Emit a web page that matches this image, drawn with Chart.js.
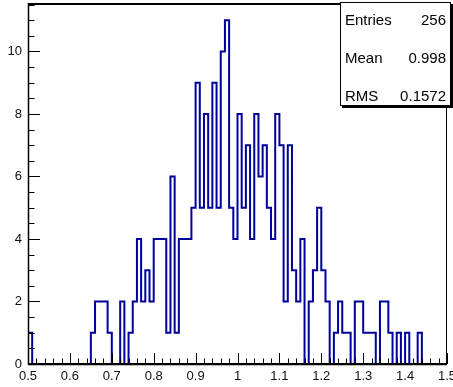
<!DOCTYPE html>
<html>
<head>
<meta charset="utf-8">
<script src="https://cdn.jsdelivr.net/npm/chart.js@4/dist/chart.umd.min.js"></script>
<style>
  html, body { margin: 0; padding: 0; background: #fff; }
  #wrap { width: 453px; height: 387px; }
</style>
</head>
<body>
<div id="wrap"><canvas id="c" width="453" height="387"></canvas></div>
<script>
// ---- data ----
const xMin = 0.5;
const xMax = 1.5;
const binWidth = 0.01;
const binCounts = [
  1,0,0,0,0,0,0,0,0,0,
  0,0,0,0,0,1,2,2,2,1,
  0,0,2,0,1,2,4,2,3,2,
  4,4,4,1,6,1,4,4,4,5,
  9,5,8,5,9,5,10,11,5,4,
  8,5,7,4,8,6,7,5,4,8,
  7,2,7,3,2,4,0,2,3,5,
  3,2,0,1,2,1,1,0,2,2,
  1,1,1,0,2,2,1,0,1,0,
  1,0,0,1,0,0,0,0,0,0
];
const yMax = 11.55;
const xTickValues = [0.5,0.6,0.7,0.8,0.9,1.0,1.1,1.2,1.3,1.4,1.5];
const xTickLabels = ['0.5','0.6','0.7','0.8','0.9','1','1.1','1.2','1.3','1.4','1.5'];
const yTickValues = [0,2,4,6,8,10];
const yTickLabels = ['0','2','4','6','8','10'];
const xMinorStep = 0.02;
const yMinorStep = 0.5;
const statNames = ['Entries','Mean','RMS'];
const statValues = ['256','0.998','0.1572'];

// histogram outline points (bin left edges, step-before)
const pts = [{x: xMin, y: 0}];
binCounts.forEach((v, i) => pts.push({x: xMin + i * binWidth, y: v}));
pts.push({x: xMax, y: binCounts[binCounts.length - 1]});

const FONT = '"Liberation Sans", Arial, sans-serif';

const framePlugin = {
  id: 'rootFrame',
  afterDatasetsDraw(chart) {
    const {ctx, chartArea: a, scales: {x, y}} = chart;
    ctx.save();
    ctx.strokeStyle = '#000';
    ctx.lineWidth = 1;
    ctx.strokeRect(a.left + 0.5, a.top + 0.5, a.right - a.left - 1, a.bottom - a.top - 1);
    ctx.beginPath();
    for (let v = xMin; v <= xMax + 1e-9; v += xMinorStep) {
      const px = Math.round(x.getPixelForValue(v)) + 0.5;
      const isMajor = xTickValues.some(t => Math.abs(t - v) < 1e-6);
      const len = isMajor ? 11 : 5.5;
      ctx.moveTo(px, a.bottom);
      ctx.lineTo(px, a.bottom - len);
    }
    for (let v = 0; v <= yMax + 1e-9; v += yMinorStep) {
      const py = Math.round(y.getPixelForValue(v)) + 0.5;
      const isMajor = yTickValues.some(t => Math.abs(t - v) < 1e-6);
      const len = isMajor ? 12 : 6.5;
      ctx.moveTo(a.left, py);
      ctx.lineTo(a.left + len, py);
    }
    ctx.stroke();
    ctx.lineWidth = 1.5;
    ctx.beginPath();
    ctx.moveTo(a.left + 0.5, a.top);
    ctx.lineTo(a.left + 0.5, a.bottom + 0.5);
    ctx.lineTo(a.right, a.bottom + 0.5);
    ctx.stroke();
    ctx.lineWidth = 2;
    ctx.beginPath();
    ctx.moveTo(a.left, a.top + 1);
    ctx.lineTo(a.right, a.top + 1);
    ctx.stroke();
    ctx.restore();
  },
  afterDraw(chart) {
    const {ctx} = chart;
    ctx.save();
    const bx = 340, by = 2, bw = 111, bh = 104;
    ctx.fillStyle = '#000';
    ctx.fillRect(bx + 2, by + 2, bw, bh);
    ctx.fillStyle = '#fff';
    ctx.fillRect(bx, by, bw, bh);
    ctx.strokeStyle = '#000';
    ctx.lineWidth = 1;
    ctx.strokeRect(bx + 0.5, by + 0.5, bw - 1, bh - 1);
    ctx.font = '15px ' + FONT;
    ctx.fillStyle = '#000';
    ctx.textBaseline = 'middle';
    const rowY = [21, 59, 97];
    statNames.forEach((n, i) => {
      ctx.textAlign = 'left';
      ctx.fillText(n, bx + 5, rowY[i]);
      ctx.textAlign = 'right';
      ctx.fillText(statValues[i], bx + bw - 5, rowY[i]);
    });
    ctx.restore();
  }
};

new Chart(document.getElementById('c'), {
  type: 'line',
  data: {
    datasets: [{
      data: pts,
      stepped: 'before',
      borderColor: '#00009a',
      borderWidth: 2,
      pointRadius: 0,
      fill: false,
      tension: 0
    }]
  },
  options: {
    responsive: false,
    devicePixelRatio: 1,
    animation: false,
    events: [],
    layout: { padding: { top: 3, right: 6, left: 0, bottom: 0 } },
    plugins: { legend: { display: false }, tooltip: { enabled: false } },
    scales: {
      x: {
        type: 'linear',
        min: xMin,
        max: xMax,
        afterBuildTicks: s => { s.ticks = xTickValues.map(v => ({value: v})); },
        afterFit: s => { s.height = 23; s.paddingLeft = 0; s.paddingRight = 0; },
        grid: { display: false, drawTicks: false },
        border: { display: false },
        ticks: {
          autoSkip: false,
          maxRotation: 0,
          padding: 5,
          color: '#111',
          font: { size: 13, family: FONT },
          callback: (v, i) => xTickLabels[i]
        }
      },
      y: {
        min: 0,
        max: yMax,
        afterBuildTicks: s => { s.ticks = yTickValues.map(v => ({value: v})); },
        afterFit: s => { s.width = 28; s.paddingTop = 0; s.paddingBottom = 0; },
        grid: { display: false, drawTicks: false },
        border: { display: false },
        ticks: {
          padding: 6,
          color: '#111',
          font: { size: 13, family: FONT },
          callback: (v, i) => yTickLabels[i]
        }
      }
    }
  },
  plugins: [framePlugin]
});
</script>
</body>
</html>
